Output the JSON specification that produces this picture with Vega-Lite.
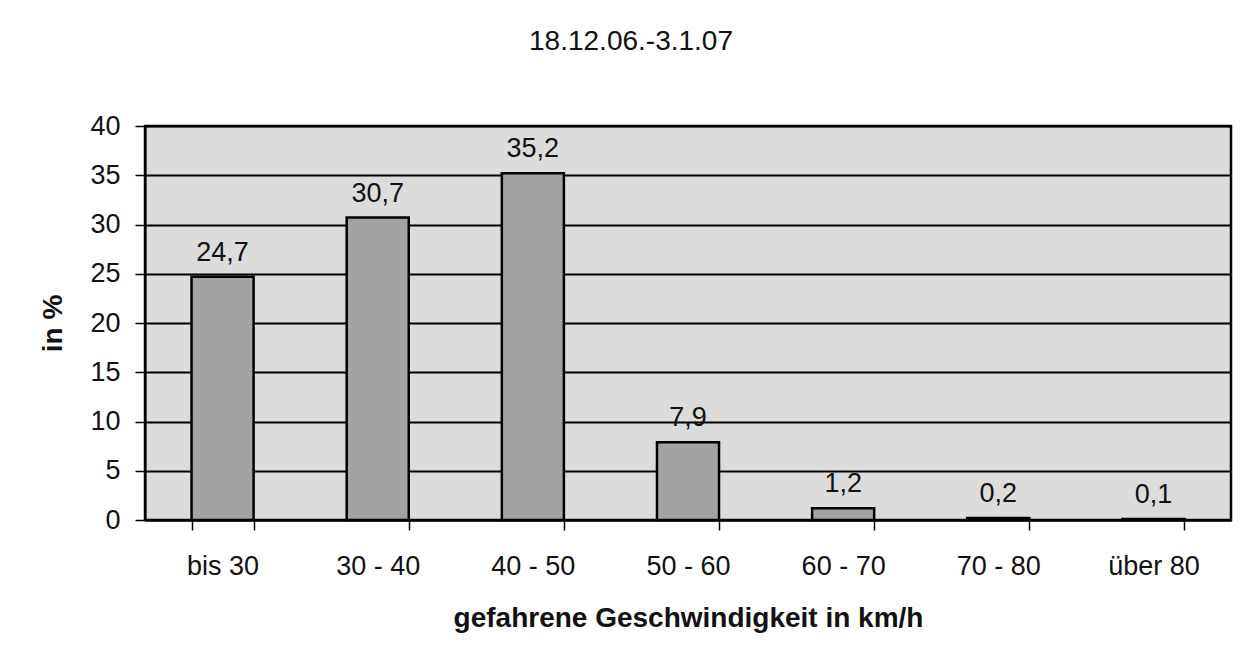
{
  "$schema": "https://vega.github.io/schema/vega-lite/v6.json",
  "autosize": "none",
  "width": 1086,
  "height": 394,
  "padding": {"left": 145, "top": 126, "right": 20, "bottom": 143},
  "background": "white",
  "title": {"text": "18.12.06.-3.1.07", "fontSize": 28, "font": "Liberation Sans", "fontWeight": "normal", "color": "#111", "anchor": "middle", "dx": -57, "offset": 56},
  "data": {"values": [
    {"kat": "bis 30", "wert": 24.7},
    {"kat": "30 - 40", "wert": 30.7},
    {"kat": "40 - 50", "wert": 35.2},
    {"kat": "50 - 60", "wert": 7.9},
    {"kat": "60 - 70", "wert": 1.2},
    {"kat": "70 - 80", "wert": 0.2},
    {"kat": "über 80", "wert": 0.1}
  ]},
  "encoding": {
    "x": {"field": "kat", "type": "nominal", "sort": null,
      "scale": {"paddingInner": 0.6, "paddingOuter": 0.3},
      "axis": {"title": "gefahrene Geschwindigkeit in km/h", "labelAngle": 0, "tickBand": "extent", "tickSize": 10, "labelPadding": 23, "titlePadding": 25, "grid": false}},
    "y": {"field": "wert", "type": "quantitative",
      "scale": {"domain": [0, 40], "nice": false},
      "axis": {"title": "in %", "values": [0,5,10,15,20,25,30,35,40], "tickSize": 10, "labelPadding": 15, "titlePadding": 22, "grid": true}}
  },
  "layer": [
    {"mark": {"type": "bar", "fill": "#a3a3a3", "stroke": "#000", "strokeWidth": 2.5}},
    {"mark": {"type": "text", "baseline": "bottom", "dy": -10, "fontSize": 27, "font": "Liberation Sans", "color": "#111"},
     "encoding": {"text": {"field": "wert", "type": "quantitative", "format": ".1f"}}}
  ],
  "config": {
    "locale": {"number": {"decimal": ",", "thousands": ".", "grouping": [3], "currency": ["", " €"]}},
    "view": {"fill": "#dcdcdc", "stroke": "#000", "strokeWidth": 2.5},
    "axis": {"labelFont": "Liberation Sans", "labelFontSize": 27, "labelColor": "#111", "titleFont": "Liberation Sans", "titleFontSize": 28, "titleFontWeight": "bold", "titleColor": "#111", "domainColor": "#000", "domainWidth": 2, "tickColor": "#000", "tickWidth": 1.5, "gridColor": "#000", "gridWidth": 2, "gridOpacity": 1}
  }
}
